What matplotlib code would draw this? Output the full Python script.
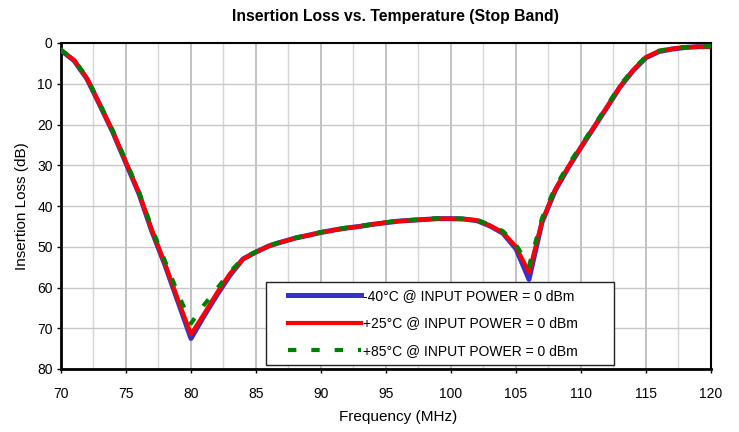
import matplotlib
matplotlib.use("Agg")
import matplotlib.pyplot as plt
from matplotlib.patches import Rectangle
import numpy as np

plt.rcParams['font.family'] = ['Liberation Sans', 'DejaVu Sans']

freq = [70, 71, 72, 73, 74, 75, 76, 77, 78, 79, 80, 81, 82, 83, 84, 85, 86, 87, 88, 89,
        90, 91, 92, 93, 94, 95, 96, 97, 98, 99, 100, 101, 102, 103, 104, 105, 106, 107,
        108, 109, 110, 111, 112, 113, 114, 115, 116, 117, 118, 119, 120]

loss_m40 = [1.8, 4.3, 8.8, 15.3, 22.0, 29.5, 37.0, 46.3, 54.5, 63.5, 72.5, 67.0, 61.8, 57.0, 53.0,
            51.3, 49.8, 48.8, 47.9, 47.2, 46.5, 45.9, 45.4, 45.0, 44.5, 44.1, 43.7, 43.5, 43.3,
            43.1, 43.1, 43.2, 43.6, 44.9, 46.7, 50.5, 58.0, 44.0, 36.3, 30.7, 25.6, 20.7, 15.8,
            10.8, 6.8, 3.6, 2.1, 1.5, 1.1, 0.9, 0.9]
loss_p25 = [1.8, 4.2, 8.7, 15.2, 21.8, 29.3, 36.8, 46.0, 54.2, 63.0, 71.5, 66.5, 61.3, 56.6, 53.0,
            51.3, 49.8, 48.8, 47.9, 47.2, 46.5, 45.9, 45.4, 45.0, 44.5, 44.0, 43.7, 43.5, 43.3,
            43.1, 43.1, 43.2, 43.5, 44.8, 46.5, 50.0, 56.3, 43.8, 36.0, 30.5, 25.5, 20.6, 15.7,
            10.7, 6.7, 3.5, 2.0, 1.4, 1.1, 0.9, 0.9]
loss_p85 = [1.7, 4.1, 8.5, 15.0, 21.6, 29.0, 36.5, 45.5, 53.5, 61.5, 68.8, 64.3, 60.3, 56.2, 52.8,
            51.2, 49.7, 48.7, 47.8, 47.1, 46.4, 45.8, 45.3, 44.9, 44.4, 44.0, 43.6, 43.4, 43.2,
            43.0, 43.0, 43.1, 43.4, 44.6, 46.2, 49.5, 54.8, 43.0, 35.5, 30.0, 25.2, 20.3, 15.4,
            10.4, 6.5, 3.3, 1.9, 1.3, 1.0, 0.8, 0.8]

labels = ["-40°C @ INPUT POWER = 0 dBm",
          "+25°C @ INPUT POWER = 0 dBm",
          "+85°C @ INPUT POWER = 0 dBm"]

fig = plt.figure(figsize=(7.39, 4.32), dpi=100)
ax = fig.add_axes([61/739, 1-369/432, 650/739, 326/432])

# grid
for xv in np.arange(72.5, 120, 2.5):
    c = '#bdbdbd' if xv % 5 == 0 else '#d6d6d6'
    ax.axvline(xv, color=c, lw=1.3 if xv % 5 == 0 else 1.0, zorder=0)
for yv in range(10, 80, 10):
    ax.axhline(yv, color='#c8c8c8', lw=1.0, zorder=0)

ax.plot(freq, loss_m40, color='#3333cc', lw=3.6, label=labels[0], zorder=3)
ax.plot(freq, loss_p25, color='#ff0000', lw=3.0, label=labels[1], zorder=4)
ax.plot(freq, loss_p85, color='#008000', lw=3.0, dashes=(2.0, 3.6), dash_capstyle='butt',
        label=labels[2], zorder=5)

ax.set_xlim(70, 120)
ax.set_ylim(80, 0)
ax.set_xticks(range(70, 121, 5))
ax.set_yticks(range(0, 81, 10))
ax.tick_params(axis='both', direction='out', length=3, width=1, labelsize=10, colors='black')
ax.tick_params(axis='x', pad=10)
ax.tick_params(axis='y', pad=3)

for s in ['left', 'bottom']:
    ax.spines[s].set_linewidth(2.0)
for s in ['top', 'right']:
    ax.spines[s].set_linewidth(1.5)

fig.text(398/739, 1-417/432, 'Frequency (MHz)', ha='center', va='center', fontsize=11)
fig.text(22.5/739, 1-206/432, 'Insertion Loss (dB)', ha='center', va='center', fontsize=11,
         rotation=90)
fig.text(395/739, 1-17/432, 'Insertion Loss vs. Temperature (Stop Band)', ha='center', va='center',
         fontsize=11.3, fontweight='bold')

# legend box
x0 = (266-61)/650
y0 = (369-365)/326
w = (614-266)/650
h = (365-282)/326
ax.add_patch(Rectangle((x0, y0), w, h, transform=ax.transAxes, facecolor='white',
                       edgecolor='#222222', lw=1.0, zorder=6))
leg = ax.legend(loc='center left', bbox_to_anchor=((293-61)/650 - 0.008, y0 + h/2),
                frameon=False, fontsize=10, handlelength=5.3, handletextpad=0.1,
                labelspacing=0.95, borderpad=0, borderaxespad=0)
leg.set_zorder(7)

fig.savefig('out.png', dpi=100)
